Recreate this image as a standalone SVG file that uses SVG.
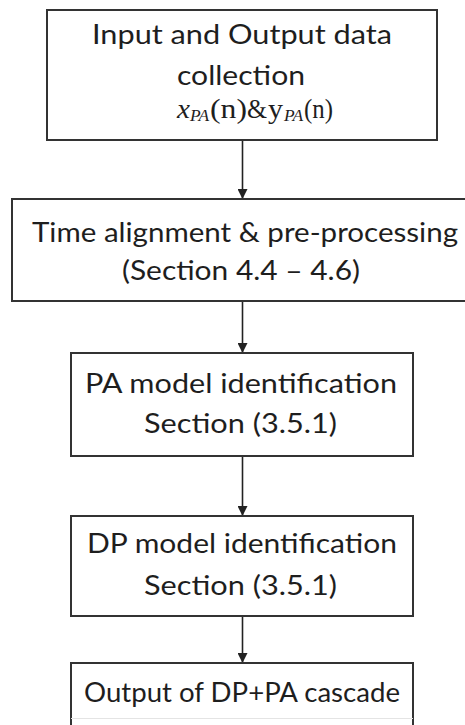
<svg xmlns="http://www.w3.org/2000/svg" width="465" height="725" viewBox="0 0 465 725">
  <defs>
    <marker id="arrow" markerUnits="userSpaceOnUse" markerWidth="12" markerHeight="10" refX="10" refY="5" orient="auto">
      <path d="M0,0 L10,5 L0,10 Z" fill="#222"/>
    </marker>
    <style>
      .box { fill: #ffffff; stroke: #333333; stroke-width: 2; }
      .lbl { font-family: Lato, "Open Sans", "Liberation Sans", sans-serif; font-size: 26px; fill: #1e1e1e; text-anchor: middle; }
      .math { font-family: "Liberation Serif", "Times New Roman", serif; font-size: 28px; fill: #1e1e1e; }
      .sub { font-size: 16px; font-style: italic; }
      .edge { stroke: #222222; stroke-width: 1.6; fill: none; marker-end: url(#arrow); }
    </style>
  </defs>
  <rect width="465" height="725" fill="#ffffff"/>

  <g id="connectors">
    <line class="edge" x1="242.5" y1="140" x2="242.5" y2="199"/>
    <line class="edge" x1="242.5" y1="301" x2="242.5" y2="353"/>
    <line class="edge" x1="242.5" y1="456" x2="242.5" y2="516"/>
    <line class="edge" x1="242.5" y1="616" x2="242.5" y2="663"/>
  </g>

  <g id="data-collection">
    <rect class="box" x="47" y="10" width="390" height="130"/>
    <text class="lbl" x="242" y="44" textLength="300" lengthAdjust="spacingAndGlyphs">Input and Output data</text>
    <text class="lbl" x="241" y="85" textLength="128" lengthAdjust="spacingAndGlyphs">collection</text>
    <text class="math" y="118"><tspan x="177" font-style="italic" textLength="13" lengthAdjust="spacingAndGlyphs">x</tspan><tspan class="sub" x="190" y="121" textLength="19" lengthAdjust="spacingAndGlyphs">PA</tspan><tspan x="210" y="118" textLength="37" lengthAdjust="spacingAndGlyphs">(n)</tspan><tspan x="247" textLength="20" lengthAdjust="spacingAndGlyphs">&amp;</tspan><tspan x="268" textLength="15" lengthAdjust="spacingAndGlyphs">y</tspan><tspan class="sub" x="284" y="121" textLength="19" lengthAdjust="spacingAndGlyphs">PA</tspan><tspan x="304" y="118" textLength="29" lengthAdjust="spacingAndGlyphs">(n)</tspan></text>
  </g>

  <g id="time-alignment">
    <rect class="box" x="12" y="199" width="470" height="102"/>
    <text class="lbl" x="245" y="242" textLength="426" lengthAdjust="spacingAndGlyphs">Time alignment &amp; pre-processing</text>
    <text class="lbl" x="241" y="280" textLength="238" lengthAdjust="spacingAndGlyphs">(Section 4.4 – 4.6)</text>
  </g>

  <g id="pa-model">
    <rect class="box" x="71" y="353" width="342" height="103"/>
    <text class="lbl" x="241" y="393" textLength="312" lengthAdjust="spacingAndGlyphs">PA model identification</text>
    <text class="lbl" x="240.5" y="433" textLength="193" lengthAdjust="spacingAndGlyphs">Section (3.5.1)</text>
  </g>

  <g id="dp-model">
    <rect class="box" x="71" y="516" width="342" height="100"/>
    <text class="lbl" x="242" y="553" textLength="310" lengthAdjust="spacingAndGlyphs">DP model identification</text>
    <text class="lbl" x="240.5" y="595" textLength="193" lengthAdjust="spacingAndGlyphs">Section (3.5.1)</text>
  </g>

  <g id="cascade-output">
    <path d="M71,725 V663 H413 V725" fill="#ffffff" stroke="#333333" stroke-width="2"/>
    <line x1="71" y1="718.5" x2="413" y2="718.5" stroke="#e4e4e4" stroke-width="1"/>
    <text class="lbl" x="242" y="702" textLength="316" lengthAdjust="spacingAndGlyphs">Output of DP+PA cascade</text>
  </g>
</svg>
